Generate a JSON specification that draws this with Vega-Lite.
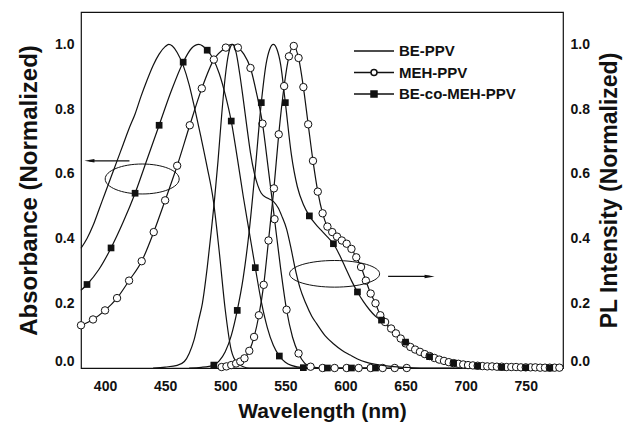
{
  "$schema": "https://vega.github.io/schema/vega-lite/v6.json",
  "width": 482,
  "height": 356,
  "autosize": {"type": "none"},
  "padding": {"left": 81, "top": 12, "right": 60, "bottom": 61},
  "background": "white",
  "config": {
    "view": {"stroke": "#111", "strokeWidth": 1.2},
    "axis": {
      "domain": false,
      "grid": false,
      "tickColor": "#111",
      "tickWidth": 1.2,
      "tickSize": 0,
      "labelFont": "Liberation Sans",
      "labelFontWeight": "bold",
      "labelFontSize": 14,
      "labelColor": "#111",
      "titleFont": "Liberation Sans",
      "titleFontWeight": "bold",
      "titleColor": "#111"
    }
  },
  "datasets": {
    "d": [
      {"s": "A", "w": 380, "v": 0.37, "m": 0}, {"s": "A", "w": 385, "v": 0.40, "m": 0}, {"s": "A", "w": 390, "v": 0.44, "m": 0},
      {"s": "A", "w": 395, "v": 0.49, "m": 0}, {"s": "A", "w": 400, "v": 0.54, "m": 0}, {"s": "A", "w": 405, "v": 0.59, "m": 0},
      {"s": "A", "w": 410, "v": 0.64, "m": 0}, {"s": "A", "w": 415, "v": 0.69, "m": 0}, {"s": "A", "w": 420, "v": 0.74, "m": 0},
      {"s": "A", "w": 425, "v": 0.785, "m": 0}, {"s": "A", "w": 430, "v": 0.84, "m": 0}, {"s": "A", "w": 435, "v": 0.89, "m": 0},
      {"s": "A", "w": 440, "v": 0.935, "m": 0}, {"s": "A", "w": 445, "v": 0.97, "m": 0}, {"s": "A", "w": 450, "v": 0.993, "m": 0},
      {"s": "A", "w": 453, "v": 1.0, "m": 0}, {"s": "A", "w": 456, "v": 0.995, "m": 0}, {"s": "A", "w": 460, "v": 0.975, "m": 0},
      {"s": "A", "w": 465, "v": 0.935, "m": 0}, {"s": "A", "w": 470, "v": 0.875, "m": 0}, {"s": "A", "w": 475, "v": 0.795, "m": 0},
      {"s": "A", "w": 480, "v": 0.71, "m": 0}, {"s": "A", "w": 485, "v": 0.62, "m": 0}, {"s": "A", "w": 490, "v": 0.52, "m": 0},
      {"s": "A", "w": 495, "v": 0.36, "m": 0}, {"s": "A", "w": 500, "v": 0.18, "m": 0}, {"s": "A", "w": 505, "v": 0.055, "m": 0},
      {"s": "A", "w": 510, "v": 0.015, "m": 0}, {"s": "A", "w": 515, "v": 0.004, "m": 0}, {"s": "A", "w": 520, "v": 0.0, "m": 0},
      {"s": "A", "w": 560, "v": 0.0, "m": 0},

      {"s": "B", "w": 380, "v": 0.24, "m": 0}, {"s": "B", "w": 385, "v": 0.258, "m": 1}, {"s": "B", "w": 395, "v": 0.305, "m": 0},
      {"s": "B", "w": 405, "v": 0.371, "m": 1}, {"s": "B", "w": 415, "v": 0.45, "m": 0}, {"s": "B", "w": 425, "v": 0.54, "m": 1},
      {"s": "B", "w": 435, "v": 0.645, "m": 0}, {"s": "B", "w": 445, "v": 0.75, "m": 1}, {"s": "B", "w": 455, "v": 0.855, "m": 0},
      {"s": "B", "w": 465, "v": 0.945, "m": 1}, {"s": "B", "w": 472, "v": 0.988, "m": 0}, {"s": "B", "w": 478, "v": 1.0, "m": 0},
      {"s": "B", "w": 485, "v": 0.982, "m": 1}, {"s": "B", "w": 490, "v": 0.955, "m": 0}, {"s": "B", "w": 495, "v": 0.91, "m": 0},
      {"s": "B", "w": 500, "v": 0.845, "m": 0}, {"s": "B", "w": 505, "v": 0.763, "m": 1}, {"s": "B", "w": 510, "v": 0.65, "m": 0},
      {"s": "B", "w": 515, "v": 0.53, "m": 0}, {"s": "B", "w": 520, "v": 0.42, "m": 0}, {"s": "B", "w": 525, "v": 0.31, "m": 1},
      {"s": "B", "w": 530, "v": 0.205, "m": 0}, {"s": "B", "w": 535, "v": 0.125, "m": 0}, {"s": "B", "w": 540, "v": 0.07, "m": 0},
      {"s": "B", "w": 545, "v": 0.037, "m": 1}, {"s": "B", "w": 550, "v": 0.018, "m": 0}, {"s": "B", "w": 555, "v": 0.008, "m": 0},
      {"s": "B", "w": 565, "v": 0.001, "m": 1}, {"s": "B", "w": 585, "v": 0.0, "m": 1}, {"s": "B", "w": 605, "v": 0.0, "m": 1},
      {"s": "B", "w": 625, "v": 0.0, "m": 1},

      {"s": "C", "w": 380, "v": 0.132, "m": 1}, {"s": "C", "w": 390, "v": 0.15, "m": 1}, {"s": "C", "w": 400, "v": 0.178, "m": 1},
      {"s": "C", "w": 410, "v": 0.216, "m": 1}, {"s": "C", "w": 420, "v": 0.27, "m": 1}, {"s": "C", "w": 430.5, "v": 0.33, "m": 1},
      {"s": "C", "w": 440.5, "v": 0.42, "m": 1}, {"s": "C", "w": 450, "v": 0.518, "m": 1}, {"s": "C", "w": 460, "v": 0.625, "m": 1},
      {"s": "C", "w": 470.5, "v": 0.75, "m": 1}, {"s": "C", "w": 480.5, "v": 0.864, "m": 1}, {"s": "C", "w": 490.5, "v": 0.953, "m": 1},
      {"s": "C", "w": 500.5, "v": 0.99, "m": 1}, {"s": "C", "w": 505.5, "v": 1.0, "m": 0}, {"s": "C", "w": 510.5, "v": 0.99, "m": 1},
      {"s": "C", "w": 515.5, "v": 0.97, "m": 0}, {"s": "C", "w": 521, "v": 0.927, "m": 1}, {"s": "C", "w": 526, "v": 0.85, "m": 0},
      {"s": "C", "w": 531, "v": 0.755, "m": 1}, {"s": "C", "w": 536, "v": 0.61, "m": 0}, {"s": "C", "w": 541, "v": 0.46, "m": 1},
      {"s": "C", "w": 546, "v": 0.31, "m": 0}, {"s": "C", "w": 551, "v": 0.18, "m": 1}, {"s": "C", "w": 556, "v": 0.095, "m": 0},
      {"s": "C", "w": 561, "v": 0.045, "m": 1}, {"s": "C", "w": 566, "v": 0.015, "m": 0}, {"s": "C", "w": 571, "v": 0.004, "m": 1},
      {"s": "C", "w": 581, "v": 0.0, "m": 1}, {"s": "C", "w": 591, "v": 0.0, "m": 1}, {"s": "C", "w": 601, "v": 0.0, "m": 1},
      {"s": "C", "w": 611, "v": 0.0, "m": 1}, {"s": "C", "w": 621, "v": 0.0, "m": 1}, {"s": "C", "w": 631, "v": 0.0, "m": 1},
      {"s": "C", "w": 641, "v": 0.0, "m": 1}, {"s": "C", "w": 651, "v": 0.0, "m": 1},

      {"s": "D", "w": 440, "v": 0.0, "m": 0}, {"s": "D", "w": 450, "v": 0.003, "m": 0}, {"s": "D", "w": 460, "v": 0.008, "m": 0},
      {"s": "D", "w": 466, "v": 0.02, "m": 0}, {"s": "D", "w": 470, "v": 0.045, "m": 0}, {"s": "D", "w": 474, "v": 0.086, "m": 0},
      {"s": "D", "w": 478, "v": 0.15, "m": 0}, {"s": "D", "w": 481, "v": 0.2, "m": 0}, {"s": "D", "w": 485, "v": 0.31, "m": 0},
      {"s": "D", "w": 488, "v": 0.41, "m": 0}, {"s": "D", "w": 491, "v": 0.517, "m": 0}, {"s": "D", "w": 494, "v": 0.64, "m": 0},
      {"s": "D", "w": 497, "v": 0.78, "m": 0}, {"s": "D", "w": 500, "v": 0.9, "m": 0}, {"s": "D", "w": 503, "v": 0.975, "m": 0},
      {"s": "D", "w": 506, "v": 1.0, "m": 0}, {"s": "D", "w": 509, "v": 0.975, "m": 0}, {"s": "D", "w": 512, "v": 0.91, "m": 0},
      {"s": "D", "w": 515, "v": 0.83, "m": 0}, {"s": "D", "w": 518, "v": 0.745, "m": 0}, {"s": "D", "w": 521, "v": 0.665, "m": 0},
      {"s": "D", "w": 524, "v": 0.605, "m": 0}, {"s": "D", "w": 527, "v": 0.565, "m": 0}, {"s": "D", "w": 530, "v": 0.54, "m": 0},
      {"s": "D", "w": 535, "v": 0.525, "m": 0}, {"s": "D", "w": 540, "v": 0.515, "m": 0}, {"s": "D", "w": 544, "v": 0.495, "m": 0},
      {"s": "D", "w": 547, "v": 0.47, "m": 0}, {"s": "D", "w": 551, "v": 0.43, "m": 0}, {"s": "D", "w": 555, "v": 0.365, "m": 0},
      {"s": "D", "w": 558, "v": 0.31, "m": 0}, {"s": "D", "w": 562, "v": 0.25, "m": 0}, {"s": "D", "w": 567, "v": 0.2, "m": 0},
      {"s": "D", "w": 572, "v": 0.16, "m": 0}, {"s": "D", "w": 576, "v": 0.137, "m": 0}, {"s": "D", "w": 583, "v": 0.1, "m": 0},
      {"s": "D", "w": 590, "v": 0.075, "m": 0}, {"s": "D", "w": 597, "v": 0.055, "m": 0}, {"s": "D", "w": 604, "v": 0.04, "m": 0},
      {"s": "D", "w": 610, "v": 0.028, "m": 0}, {"s": "D", "w": 617, "v": 0.018, "m": 0}, {"s": "D", "w": 624, "v": 0.012, "m": 0},
      {"s": "D", "w": 631, "v": 0.008, "m": 0}, {"s": "D", "w": 640, "v": 0.004, "m": 0}, {"s": "D", "w": 650, "v": 0.002, "m": 0},
      {"s": "D", "w": 665, "v": 0.0, "m": 0}, {"s": "D", "w": 700, "v": 0.0, "m": 0},

      {"s": "E", "w": 470, "v": 0.0, "m": 0}, {"s": "E", "w": 480, "v": 0.002, "m": 0}, {"s": "E", "w": 490.5, "v": 0.009, "m": 1},
      {"s": "E", "w": 495, "v": 0.022, "m": 0}, {"s": "E", "w": 500, "v": 0.05, "m": 0}, {"s": "E", "w": 505, "v": 0.1, "m": 0},
      {"s": "E", "w": 510, "v": 0.178, "m": 1}, {"s": "E", "w": 515, "v": 0.28, "m": 0}, {"s": "E", "w": 520, "v": 0.425, "m": 0},
      {"s": "E", "w": 525, "v": 0.615, "m": 0}, {"s": "E", "w": 530, "v": 0.82, "m": 1}, {"s": "E", "w": 534, "v": 0.94, "m": 0},
      {"s": "E", "w": 537, "v": 0.985, "m": 0}, {"s": "E", "w": 540, "v": 1.0, "m": 0}, {"s": "E", "w": 543, "v": 0.985, "m": 0},
      {"s": "E", "w": 546, "v": 0.94, "m": 0}, {"s": "E", "w": 550, "v": 0.82, "m": 1}, {"s": "E", "w": 555, "v": 0.66, "m": 0},
      {"s": "E", "w": 560, "v": 0.56, "m": 0}, {"s": "E", "w": 565, "v": 0.505, "m": 0}, {"s": "E", "w": 570, "v": 0.47, "m": 1},
      {"s": "E", "w": 575, "v": 0.445, "m": 0}, {"s": "E", "w": 580, "v": 0.425, "m": 0}, {"s": "E", "w": 585, "v": 0.405, "m": 0},
      {"s": "E", "w": 590, "v": 0.384, "m": 1}, {"s": "E", "w": 595, "v": 0.35, "m": 0}, {"s": "E", "w": 600, "v": 0.31, "m": 0},
      {"s": "E", "w": 605, "v": 0.27, "m": 0}, {"s": "E", "w": 610, "v": 0.235, "m": 1}, {"s": "E", "w": 615, "v": 0.205, "m": 0},
      {"s": "E", "w": 620, "v": 0.18, "m": 0}, {"s": "E", "w": 625, "v": 0.16, "m": 0}, {"s": "E", "w": 630, "v": 0.148, "m": 1},
      {"s": "E", "w": 640, "v": 0.11, "m": 0}, {"s": "E", "w": 650, "v": 0.08, "m": 1}, {"s": "E", "w": 660, "v": 0.055, "m": 0},
      {"s": "E", "w": 670, "v": 0.035, "m": 1}, {"s": "E", "w": 680, "v": 0.023, "m": 0}, {"s": "E", "w": 690, "v": 0.015, "m": 1},
      {"s": "E", "w": 710, "v": 0.006, "m": 1}, {"s": "E", "w": 730, "v": 0.002, "m": 1}, {"s": "E", "w": 750, "v": 0.001, "m": 1},
      {"s": "E", "w": 770, "v": 0.0, "m": 1},

      {"s": "F", "w": 497, "v": 0.003, "m": 1}, {"s": "F", "w": 501, "v": 0.005, "m": 1}, {"s": "F", "w": 505, "v": 0.009, "m": 1},
      {"s": "F", "w": 509, "v": 0.014, "m": 1}, {"s": "F", "w": 512.5, "v": 0.02, "m": 1}, {"s": "F", "w": 516, "v": 0.03, "m": 1},
      {"s": "F", "w": 520, "v": 0.053, "m": 1}, {"s": "F", "w": 524, "v": 0.096, "m": 1}, {"s": "F", "w": 528, "v": 0.163, "m": 1},
      {"s": "F", "w": 532, "v": 0.257, "m": 1}, {"s": "F", "w": 536, "v": 0.394, "m": 1}, {"s": "F", "w": 540.5, "v": 0.555, "m": 1},
      {"s": "F", "w": 544.5, "v": 0.722, "m": 1}, {"s": "F", "w": 549, "v": 0.871, "m": 1}, {"s": "F", "w": 553, "v": 0.963, "m": 1},
      {"s": "F", "w": 557, "v": 0.995, "m": 1}, {"s": "F", "w": 561, "v": 0.958, "m": 1}, {"s": "F", "w": 565, "v": 0.868, "m": 1},
      {"s": "F", "w": 569, "v": 0.753, "m": 1}, {"s": "F", "w": 573, "v": 0.64, "m": 1}, {"s": "F", "w": 577, "v": 0.545, "m": 1},
      {"s": "F", "w": 581, "v": 0.478, "m": 1}, {"s": "F", "w": 585, "v": 0.437, "m": 1}, {"s": "F", "w": 589, "v": 0.42, "m": 1},
      {"s": "F", "w": 593, "v": 0.406, "m": 1}, {"s": "F", "w": 597, "v": 0.394, "m": 1}, {"s": "F", "w": 601, "v": 0.384, "m": 1},
      {"s": "F", "w": 605, "v": 0.368, "m": 1}, {"s": "F", "w": 609, "v": 0.342, "m": 1}, {"s": "F", "w": 613, "v": 0.312, "m": 1},
      {"s": "F", "w": 617, "v": 0.27, "m": 1}, {"s": "F", "w": 621, "v": 0.23, "m": 1}, {"s": "F", "w": 625, "v": 0.2, "m": 1},
      {"s": "F", "w": 629, "v": 0.163, "m": 1}, {"s": "F", "w": 633, "v": 0.142, "m": 1}, {"s": "F", "w": 638, "v": 0.122, "m": 1},
      {"s": "F", "w": 642, "v": 0.107, "m": 1}, {"s": "F", "w": 646, "v": 0.091, "m": 1}, {"s": "F", "w": 650, "v": 0.076, "m": 1},
      {"s": "F", "w": 654, "v": 0.065, "m": 1}, {"s": "F", "w": 658, "v": 0.057, "m": 1}, {"s": "F", "w": 662, "v": 0.05, "m": 1},
      {"s": "F", "w": 666, "v": 0.043, "m": 1}, {"s": "F", "w": 670, "v": 0.037, "m": 1}, {"s": "F", "w": 674, "v": 0.031, "m": 1},
      {"s": "F", "w": 678, "v": 0.026, "m": 1}, {"s": "F", "w": 682, "v": 0.022, "m": 1}, {"s": "F", "w": 686, "v": 0.018, "m": 1},
      {"s": "F", "w": 690, "v": 0.015, "m": 1}, {"s": "F", "w": 694, "v": 0.013, "m": 1}, {"s": "F", "w": 698, "v": 0.011, "m": 1},
      {"s": "F", "w": 702, "v": 0.009, "m": 1}, {"s": "F", "w": 706, "v": 0.008, "m": 1}, {"s": "F", "w": 710, "v": 0.007, "m": 1},
      {"s": "F", "w": 714, "v": 0.006, "m": 1}, {"s": "F", "w": 718, "v": 0.005, "m": 1}, {"s": "F", "w": 722, "v": 0.005, "m": 1},
      {"s": "F", "w": 726, "v": 0.004, "m": 1}, {"s": "F", "w": 730, "v": 0.004, "m": 1}, {"s": "F", "w": 734, "v": 0.003, "m": 1},
      {"s": "F", "w": 738, "v": 0.003, "m": 1}, {"s": "F", "w": 742, "v": 0.003, "m": 1}, {"s": "F", "w": 746, "v": 0.002, "m": 1},
      {"s": "F", "w": 750, "v": 0.002, "m": 1}, {"s": "F", "w": 754, "v": 0.002, "m": 1}, {"s": "F", "w": 758, "v": 0.002, "m": 1},
      {"s": "F", "w": 762, "v": 0.001, "m": 1}, {"s": "F", "w": 766, "v": 0.001, "m": 1}, {"s": "F", "w": 770, "v": 0.001, "m": 1},
      {"s": "F", "w": 774, "v": 0.001, "m": 1}, {"s": "F", "w": 778, "v": 0.001, "m": 1}
    ],
    "ann": [
      {"k": "e1", "w": 430.9, "v": 0.584},
      {"k": "a1", "w": 387, "w2": 420.3, "v": 0.64},
      {"k": "e2", "w": 591, "v": 0.291},
      {"k": "a2", "w": 670, "w2": 635.5, "v": 0.283}
    ],
    "leg": [
      {"s": "BE-PPV"}, {"s": "MEH-PPV"}, {"s": "BE-co-MEH-PPV"}
    ]
  },
  "encoding": {
    "x": {
      "field": "w", "type": "quantitative",
      "scale": {"domain": [380, 781], "nice": false, "zero": false},
      "axis": {
        "values": [400, 425, 450, 475, 500, 525, 550, 575, 600, 625, 650, 675, 700, 725, 750, 775],
        "labelExpr": "datum.value % 50 === 0 ? datum.label : ''",
        "labelPadding": 11,
        "labelFlush": false,
        "title": "Wavelength (nm)",
        "titleFontSize": 21,
        "titlePadding": 7,
        "encode": {"ticks": {"update": {"y2": {"signal": "datum.value % 50 === 0 ? -7 : -4"}}}}
      }
    }
  },
  "layer": [
    {
      "encoding": {
        "y": {
          "field": "v", "type": "quantitative",
          "scale": {"domain": [0, 1.1], "nice": false, "zero": false},
          "axis": {
            "values": [0, 0.1, 0.2, 0.3, 0.4, 0.5, 0.6, 0.7, 0.8, 0.9, 1.0],
            "format": ".1f",
            "labelExpr": "round(datum.value * 10) % 2 === 0 ? datum.label : ''",
            "labelPadding": 7,
            "labelFlush": true,
            "title": "Absorbance (Normalized)",
            "titleFontSize": 24,
            "titlePadding": 13,
            "encode": {"ticks": {"update": {"x2": {"signal": "round(datum.value * 10) % 2 === 0 ? 7 : 4"}}}}
          }
        }
      },
      "layer": [
        {
          "data": {"name": "d"},
          "transform": [{"filter": "datum.s === 'A' || datum.s === 'B' || datum.s === 'C'"}],
          "mark": {"type": "line", "interpolate": "monotone", "color": "#111", "strokeWidth": 1.2},
          "encoding": {"detail": {"field": "s"}}
        },
        {
          "data": {"name": "d"},
          "transform": [{"filter": "datum.s === 'C' && datum.m === 1"}],
          "mark": {"type": "point", "shape": "circle", "filled": true, "fill": "white", "stroke": "#111", "strokeWidth": 1, "size": 55, "opacity": 1}
        },
        {
          "data": {"name": "d"},
          "transform": [{"filter": "datum.s === 'B' && datum.m === 1"}],
          "mark": {"type": "point", "shape": "square", "filled": true, "fill": "#111", "size": 45, "opacity": 1}
        },
        {
          "data": {"name": "ann"},
          "transform": [{"filter": "datum.k === 'e1'"}],
          "mark": {"type": "point", "shape": "M-1,0A1,0.405,0,1,0,1,0A1,0.405,0,1,0,-1,0Z", "size": 5476, "filled": false, "stroke": "#111", "strokeWidth": 1, "opacity": 1}
        },
        {
          "data": {"name": "ann"},
          "transform": [{"filter": "datum.k === 'a1'"}],
          "mark": {"type": "rule", "color": "#111", "strokeWidth": 1.2},
          "encoding": {"x2": {"field": "w2"}}
        },
        {
          "data": {"name": "ann"},
          "transform": [{"filter": "datum.k === 'a1'"}],
          "mark": {"type": "point", "shape": "M1,-0.35L-1,0L1,0.35Z", "size": 100, "filled": true, "fill": "#111", "opacity": 1}
        }
      ]
    },
    {
      "encoding": {
        "y": {
          "field": "v", "type": "quantitative",
          "scale": {"domain": [0, 1.1], "nice": false, "zero": false},
          "axis": {
            "orient": "right",
            "values": [0, 0.1, 0.2, 0.3, 0.4, 0.5, 0.6, 0.7, 0.8, 0.9, 1.0],
            "format": ".1f",
            "labelExpr": "round(datum.value * 10) % 2 === 0 ? datum.label : ''",
            "labelPadding": 7,
            "labelFlush": true,
            "title": "PL Intensity (Normalized)",
            "titleFontSize": 23,
            "titleAngle": 270,
            "titleBaseline": "top",
            "titlePadding": 9,
            "encode": {"ticks": {"update": {"x2": {"signal": "round(datum.value * 10) % 2 === 0 ? -7 : -4"}}}}
          }
        }
      },
      "layer": [
        {
          "data": {"name": "d"},
          "transform": [{"filter": "datum.s === 'D' || datum.s === 'E' || datum.s === 'F'"}],
          "mark": {"type": "line", "interpolate": "monotone", "color": "#111", "strokeWidth": 1.2},
          "encoding": {"detail": {"field": "s"}}
        },
        {
          "data": {"name": "d"},
          "transform": [{"filter": "datum.s === 'F' && datum.m === 1"}],
          "mark": {"type": "point", "shape": "circle", "filled": true, "fill": "white", "stroke": "#111", "strokeWidth": 1, "size": 55, "opacity": 1}
        },
        {
          "data": {"name": "d"},
          "transform": [{"filter": "datum.s === 'E' && datum.m === 1"}],
          "mark": {"type": "point", "shape": "square", "filled": true, "fill": "#111", "size": 45, "opacity": 1}
        },
        {
          "data": {"name": "ann"},
          "transform": [{"filter": "datum.k === 'e2'"}],
          "mark": {"type": "point", "shape": "M-1,0A1,0.296,0,1,0,1,0A1,0.296,0,1,0,-1,0Z", "size": 8100, "filled": false, "stroke": "#111", "strokeWidth": 1, "opacity": 1}
        },
        {
          "data": {"name": "ann"},
          "transform": [{"filter": "datum.k === 'a2'"}],
          "mark": {"type": "rule", "color": "#111", "strokeWidth": 1.2},
          "encoding": {"x2": {"field": "w2"}}
        },
        {
          "data": {"name": "ann"},
          "transform": [{"filter": "datum.k === 'a2'"}],
          "mark": {"type": "point", "shape": "M-1,-0.35L1,0L-1,0.35Z", "size": 100, "filled": true, "fill": "#111", "opacity": 1}
        },
        {
          "data": {"name": "leg"},
          "transform": [{"filter": "false"}],
          "mark": {"type": "point", "filled": true, "size": 400, "stroke": "#111", "strokeWidth": 1.2, "opacity": 1},
          "encoding": {
            "x": {"datum": 500, "type": "quantitative"},
            "y": {"datum": 0.5, "type": "quantitative"},
            "shape": {
              "field": "s", "type": "nominal",
              "scale": {
                "domain": ["BE-PPV", "MEH-PPV", "BE-co-MEH-PPV"],
                "range": [
                  "M-2,0H2",
                  "M-2,0H-0.3M0.3,0H2M0.3,0A0.3,0.3,0,1,1,-0.3,0A0.3,0.3,0,1,1,0.3,0Z",
                  "M-2,0H2M-0.3,-0.3H0.3V0.3H-0.3Z"
                ]
              },
              "legend": {
                "orient": "none",
                "legendX": 282,
                "legendY": 28,
                "title": null,
                "padding": 0,
                "symbolSize": 400,
                "labelFont": "Liberation Sans",
                "labelFontWeight": "bold",
                "labelFontSize": 15,
                "labelColor": "#111",
                "labelOffset": 14,
                "rowPadding": 2.5,
                "encode": {"symbols": {"update": {"stroke": {"value": "#111"}, "strokeWidth": {"value": 1.2}, "opacity": {"value": 1}}}}
              }
            },
            "fill": {
              "field": "s", "type": "nominal",
              "scale": {"domain": ["BE-PPV", "MEH-PPV", "BE-co-MEH-PPV"], "range": ["#111", "white", "#111"]}
            }
          }
        }
      ]
    }
  ],
  "resolve": {"scale": {"y": "independent"}}
}
